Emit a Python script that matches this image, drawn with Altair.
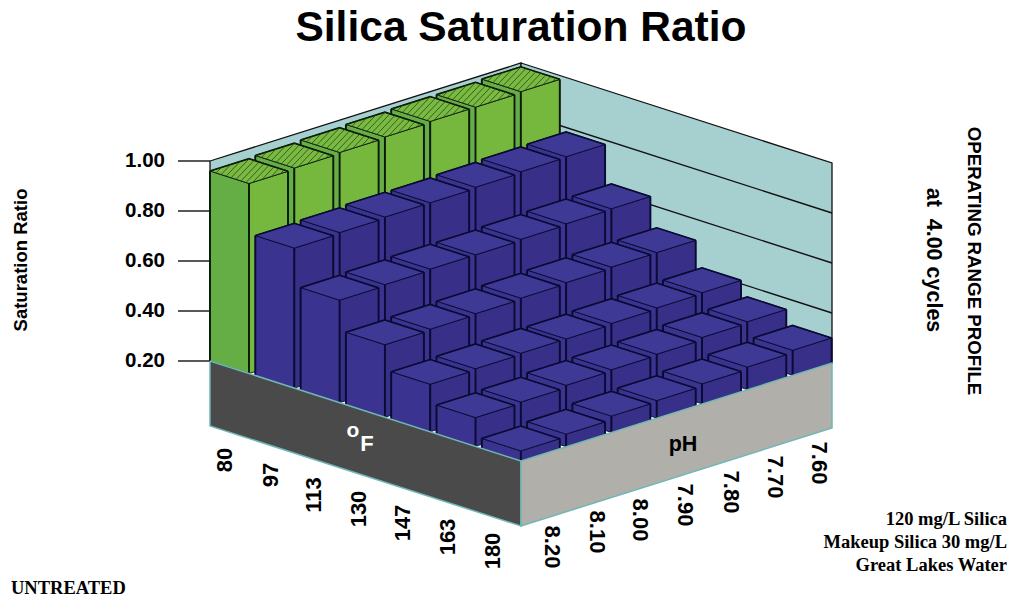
import altair as alt
import pandas as pd

temps = ["80", "97", "113", "130", "147", "163", "180"]
phs = ["8.20", "8.10", "8.00", "7.90", "7.80", "7.70", "7.60"]
y_ticks = [1.00, 0.80, 0.60, 0.40, 0.20]
# saturation ratio: rows = temperature, columns = pH
ratio = [
    [0.96, 0.965, 0.97, 0.975, 0.98, 0.98, 0.985],
    [0.76, 0.765, 0.77, 0.77, 0.775, 0.78, 0.783],
    [0.61, 0.615, 0.62, 0.62, 0.625, 0.63, 0.633],
    [0.49, 0.495, 0.50, 0.505, 0.51, 0.515, 0.516],
    [0.39, 0.395, 0.40, 0.40, 0.405, 0.41, 0.414],
    [0.315, 0.32, 0.33, 0.335, 0.34, 0.35, 0.356],
    [0.24, 0.25, 0.265, 0.27, 0.28, 0.29, 0.30],
]

W, H = 1006, 590
OX, OY = 210.0, 361.0
PX_PER_UNIT = 250.0
LEN_T, LEN_P = 311.0, 311.0
STEP_T, STEP_P, W_T, W_P = 45.3, 45.3, 39.0, 39.0


def proj(a, b, val=0.2):
    return (OX + a + b, OY + a * 100 / 311 - b * 98 / 311 - (val - 0.2) * PX_PER_UNIT)


GREEN = ("#65ad45", "#76b83e", "#7ab942")
BLUE = ("#3a3490", "#372f88", "#3e3994")

faces = []
n = [0]


def add(points, fill, sw, stroke, close=True):
    key = "f%05d" % n[0]
    n[0] += 1
    pts = list(points) + ([points[0]] if close else [])
    for s, (x, y) in enumerate(pts):
        faces.append(dict(face=key, seq=s, x=x, y=y, fill=fill, sw=sw, stroke=stroke))


def bar_faces(i, j, edge):
    v = ratio[i][j]
    a0, a1 = i * STEP_T, i * STEP_T + W_T
    b0, b1 = j * STEP_P, j * STEP_P + W_P
    cols = GREEN if i == 0 else BLUE
    A, B, C, D = (proj(a0, b0, v), proj(a1, b0, v), proj(a1, b1, v), proj(a0, b1, v))
    Bb, Ab, Cb = proj(a1, b0), proj(a0, b0), proj(a1, b1)
    add([A, B, Bb, Ab], cols[0], 0.9, edge)
    add([B, C, Cb, Bb], cols[1], 0.9, edge)
    add([A, B, C, D], cols[2], 0.9, edge)
    add([Ab, A], "transparent", 1.9, edge, close=False)
    add([Bb, B], "transparent", 1.9, edge, close=False)
    add([Cb, C], "transparent", 1.9, edge, close=False)
    add([A, D, C], "transparent", 1.6, edge, close=False)
    return (A, B, C, D)


# backdrop
WALL = "#a6cfd0"
add([proj(0, 0, 1.0), proj(0, LEN_P, 1.0), proj(0, LEN_P), proj(0, 0)], WALL, 1.3, "#111111")
add([proj(0, LEN_P, 1.0), proj(LEN_T, LEN_P, 1.0), proj(LEN_T, LEN_P), proj(0, LEN_P)], WALL, 1.3, "#111111")
backdrop = pd.DataFrame(faces)

floor = []
faces = floor
add([proj(0, 0), proj(LEN_T, 0), proj(LEN_T, 0, -0.06), proj(0, 0, -0.06)], "#4a4a4a", 1.5, "#6fb7b7")
add([proj(LEN_T, 0), proj(LEN_T, LEN_P), proj(LEN_T, LEN_P, -0.06), proj(LEN_T, 0, -0.06)], "#b1afaa", 1.5, "#6fb7b7")
floor = pd.DataFrame(floor)

green = []
faces = green
hatch = []
hid = 0
for j in range(6, -1, -1):
    top = bar_faces(0, j, "#0c1a0c")
    xs = [p[0] for p in top]
    s = 1.05
    x0 = min(xs) - 5
    while x0 < max(xs) + 60:
        hits = []
        for k in range(4):
            (x1, y1), (x2, y2) = top[k], top[(k + 1) % 4]
            f1 = s * (x1 - x0) + (y1 - top[0][1])
            f2 = s * (x2 - x0) + (y2 - top[0][1])
            if f1 * f2 < 0:
                t = f1 / (f1 - f2)
                hits.append((x1 + t * (x2 - x1), y1 + t * (y2 - y1)))
        if len(hits) == 2:
            for q, h in enumerate(hits):
                hatch.append(dict(line="h%05d" % hid, seq=q, x=h[0], y=h[1]))
            hid += 1
        x0 += 6.5
green = pd.DataFrame(green)
hatch = pd.DataFrame(hatch)

blue = []
faces = blue
for i in range(1, 7):
    for j in range(6, -1, -1):
        bar_faces(i, j, "#0a0a33")
blue = pd.DataFrame(blue)

# gridlines on the right wall and tick stubs on the left
rules = []
for t, val in enumerate(y_ticks):
    if val < 1.0 and val > 0.2:
        for q, (a, b) in enumerate([(0, LEN_P), (LEN_T, LEN_P)]):
            x, y = proj(a, b, val)
            rules.append(dict(line="g%d" % t, seq=q, x=x, y=y))
    x, y = proj(0, 0, val)
    rules.append(dict(line="t%d" % t, seq=0, x=x - 32, y=y))
    rules.append(dict(line="t%d" % t, seq=1, x=x, y=y))
rules = pd.DataFrame(rules)

X = alt.X("x:Q", scale=alt.Scale(domain=[8, 8 + W], range=[0, W]), axis=None)
Y = alt.Y("y:Q", scale=alt.Scale(domain=[8, 8 + H], range=[0, H]), axis=None)


def poly_layer(df):
    return alt.Chart(df).mark_line(strokeJoin="miter").encode(
        x=X, y=Y, detail="face:N", order="seq:Q",
        fill=alt.Fill("fill:N", scale=None),
        stroke=alt.Stroke("stroke:N", scale=None),
        strokeWidth=alt.StrokeWidth("sw:Q", scale=None),
    )


def line_layer(df, color, width):
    return alt.Chart(df).mark_line(color=color, strokeWidth=width).encode(
        x=X, y=Y, detail="line:N", order="seq:Q"
    )


def text(s, x, y, size, angle=0, align="center", font="Liberation Sans", color="black"):
    d = pd.DataFrame([dict(t=s, x=x, y=y)])
    return alt.Chart(d).mark_text(
        fontSize=size, angle=angle, align=align, baseline="middle", font=font,
        fontWeight="bold", color=color,
    ).encode(x=X, y=Y, text="t:N")


temp_pos = [(225, 460), (271, 475), (314, 495), (359, 509), (403, 523), (448, 537), (493, 551)]
ph_pos = [(552, 547), (597, 532), (640, 520), (685, 505), (731, 492), (775, 477), (819, 463)]

layers = [
    poly_layer(backdrop),
    line_layer(rules, "#111111", 1.4),
    poly_layer(green),
    line_layer(hatch, "#214a12", 0.8),
    poly_layer(blue),
    poly_layer(floor),
    text("Silica Saturation Ratio", 521, 28, 42.5),
    text("Saturation Ratio", 21, 260, 18.5, angle=270),
    text("OPERATING RANGE PROFILE", 974, 261, 18.7, angle=90),
    text("at\u00a0\u00a04.00 cycles", 933, 260, 21.5, angle=90),
    text("120 mg/L Silica", 1007, 519, 18.5, align="right", font="Liberation Serif"),
    text("Makeup Silica 30 mg/L", 1007, 542, 18.5, align="right", font="Liberation Serif"),
    text("Great Lakes Water", 1007, 565, 18.5, align="right", font="Liberation Serif"),
    text("UNTREATED", 11, 588, 18.5, align="left", font="Liberation Serif"),
    text("o", 353, 431, 21, color="white"),
    text("F", 367, 444, 22, color="white"),
    text("pH", 683, 445, 21.5),
]
for val in y_ticks:
    _, y = proj(0, 0, val)
    layers.append(text("%.2f" % val, 165, y, 20.5, align="right"))
for s, (x, y) in zip(temps, temp_pos):
    layers.append(text(s, x, y, 22, angle=270))
for s, (x, y) in zip(phs, ph_pos):
    layers.append(text(s, x, y, 22, angle=90))

chart = alt.layer(*layers).properties(
    width=W, height=H, padding=0,
    autosize=alt.AutoSizeParams(type="none"),
).configure_view(stroke=None)

chart.save("out.html", embed_options={"renderer": "svg", "actions": False})
